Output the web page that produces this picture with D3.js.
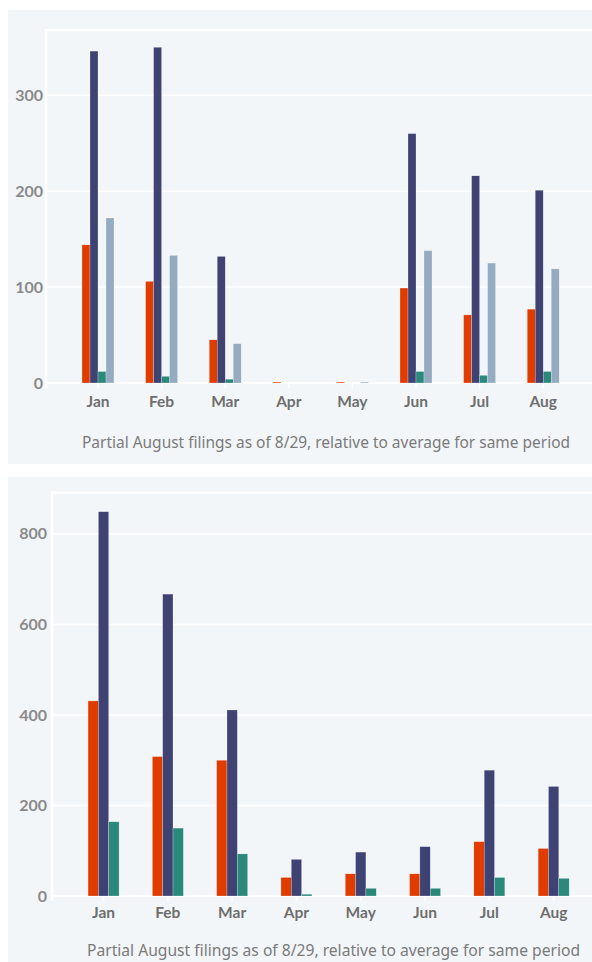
<!DOCTYPE html>
<html>
<head>
<meta charset="utf-8">
<script src="https://cdn.jsdelivr.net/npm/d3@7"></script>
<style>
  html, body { margin: 0; padding: 0; background: #ffffff; }
  svg { display: block; }
</style>
</head>
<body>
<svg id="chart" width="592" height="962"></svg>
<script>
// ---------- DATA ----------
const months = ["Jan", "Feb", "Mar", "Apr", "May", "Jun", "Jul", "Aug"];

// Top chart: four series
const topSeriesNames = ["s1", "s2", "s3", "s4"];
const topS1 = [144, 106, 45, 1, 1, 99, 71, 77];
const topS2 = [346, 350, 132, 0, 0, 260, 216, 201];
const topS3 = [12, 7, 4, 0, 0, 12, 8, 12];
const topS4 = [172, 133, 41, 0, 1, 138, 125, 119];
const topTicks = [0, 100, 200, 300];

// Bottom chart: three series
const botSeriesNames = ["s1", "s2", "s3"];
const botS1 = [431, 308, 300, 41, 49, 49, 120, 105];
const botS2 = [849, 667, 411, 81, 97, 109, 278, 242];
const botS3 = [164, 150, 93, 4, 17, 17, 41, 39];
const botTicks = [0, 200, 400, 600, 800];

const caption = "Partial August filings as of 8/29, relative to average for same period";

// ---------- STYLE ----------
const colors = { s1: "#e03c00", s2: "#3f4374", s3: "#2a897b", s4: "#95abbf" };
const panelBg = "#f3f6f9";

const svg = d3.select("#chart");

function drawPanel(cfg) {
  const g = svg.append("g");
  g.append("rect").attr("x", cfg.panel[0]).attr("y", cfg.panel[1])
    .attr("width", cfg.panel[2]).attr("height", cfg.panel[3]).attr("fill", panelBg);

  const y = d3.scaleLinear().domain([0, cfg.yMax]).range([cfg.y0, cfg.yTop]);
  const x = d3.scaleBand().domain(months).range(cfg.xRange).padding(0);
  const inner = d3.scaleBand().domain(cfg.series).range([0, cfg.groupW]).padding(0);

  g.append("g").selectAll("line").data(cfg.ticks).join("line")
    .attr("x1", cfg.axisX).attr("x2", 592)
    .attr("y1", d => y(d)).attr("y2", d => y(d))
    .attr("stroke", "#ffffff").attr("stroke-width", d => d === 0 ? 2 : 1.5);
  g.append("line").attr("x1", cfg.axisX).attr("x2", 592)
    .attr("y1", cfg.yTop).attr("y2", cfg.yTop)
    .attr("stroke", "#ffffff").attr("stroke-width", 2.5);
  g.append("line").attr("x1", cfg.axisX).attr("x2", cfg.axisX)
    .attr("y1", cfg.yTop - 1).attr("y2", cfg.y0 + 5)
    .attr("stroke", "#ffffff").attr("stroke-width", 2.5);
  g.append("g").selectAll("line").data(months).join("line")
    .attr("x1", d => x(d) + x.bandwidth() / 2).attr("x2", d => x(d) + x.bandwidth() / 2)
    .attr("y1", cfg.y0).attr("y2", cfg.y0 + 5)
    .attr("stroke", "#ffffff").attr("stroke-width", 1.5);

  const rows = months.map((m, i) => ({ m, vals: cfg.series.map(s => ({ s, v: cfg.data[s][i] })) }));
  const grp = g.append("g").selectAll("g").data(rows).join("g")
    .attr("transform", d => `translate(${x(d.m) + x.bandwidth() / 2 - cfg.groupW / 2},0)`);
  grp.selectAll("rect").data(d => d.vals.filter(o => o.v > 0)).join("rect")
    .attr("x", d => inner(d.s))
    .attr("width", inner.bandwidth())
    .attr("y", d => y(d.v))
    .attr("height", d => y(0) - y(d.v))
    .attr("fill", d => colors[d.s])
    .attr("stroke", "#ffffff").attr("stroke-width", 0.4).attr("stroke-opacity", 0.6);

  g.append("g").selectAll("text").data(cfg.ticks).join("text")
    .attr("x", cfg.tickLabelX).attr("y", d => y(d))
    .attr("dy", "0.35em").attr("text-anchor", "end")
    .attr("font-family", "Lato, 'Noto Sans', sans-serif").attr("font-weight", 700)
    .attr("font-size", 16).attr("fill", "#8a8a8a")
    .text(d => d);

  g.append("g").selectAll("text").data(months).join("text")
    .attr("x", d => x(d) + x.bandwidth() / 2).attr("y", cfg.monthY)
    .attr("dy", "0.35em").attr("text-anchor", "middle")
    .attr("font-family", "Lato, 'Noto Sans', sans-serif").attr("font-weight", 700)
    .attr("font-size", 15.5).attr("fill", "#6e6e6e")
    .text(d => d);

  g.append("text").attr("x", cfg.captionX).attr("y", cfg.captionY)
    .attr("font-family", "'Noto Sans', 'Open Sans', sans-serif")
    .attr("font-size", 15.4).attr("fill", "#7a7a7a")
    .attr("textLength", cfg.captionW).attr("lengthAdjust", "spacingAndGlyphs")
    .text(caption);
}

drawPanel({
  panel: [8, 10, 584, 454],
  yMax: 368, y0: 383, yTop: 30,
  xRange: [66.2, 575],
  groupW: 32,
  axisX: 46,
  series: topSeriesNames,
  data: { s1: topS1, s2: topS2, s3: topS3, s4: topS4 },
  ticks: topTicks,
  tickLabelX: 43,
  monthY: 402,
  captionX: 82, captionY: 448, captionW: 488
});

drawPanel({
  panel: [8, 477, 584, 485],
  yMax: 891, y0: 896, yTop: 492.7,
  xRange: [71.4, 585.8],
  groupW: 31,
  axisX: 52,
  series: botSeriesNames,
  data: { s1: botS1, s2: botS2, s3: botS3 },
  ticks: botTicks,
  tickLabelX: 47,
  monthY: 913,
  captionX: 87, captionY: 956, captionW: 493
});
</script>
</body>
</html>
